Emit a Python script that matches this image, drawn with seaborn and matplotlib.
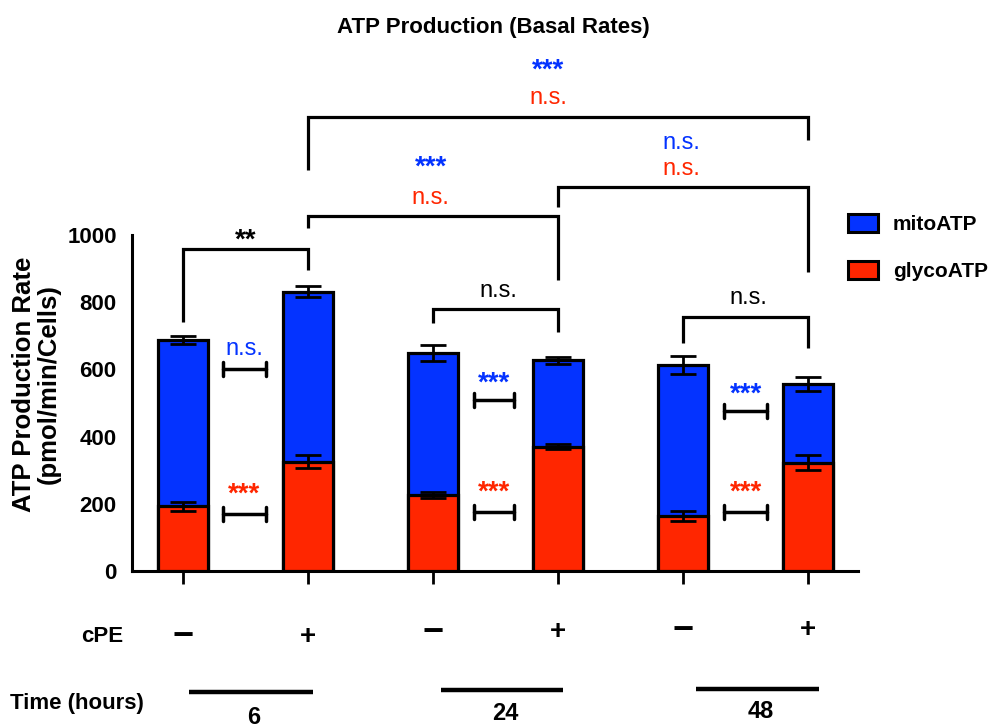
import numpy as np
import pandas as pd
import matplotlib
matplotlib.use("Agg")
import matplotlib.pyplot as plt
import seaborn as sns
from matplotlib.patches import Patch
from matplotlib.transforms import blended_transform_factory

# ---- data -------------------------------------------------------------
conditions = ["6h -", "6h +", "24h -", "24h +", "48h -", "48h +"]
cpe_marks = ["\u2212", "+", "\u2212", "+", "\u2212", "+"]
time_labels = ["6", "24", "48"]
glyco_atp = [192, 325, 226, 370, 164, 322]
mito_atp = [496, 506, 423, 257, 448, 234]
glyco_err = [12, 19, 10, 8, 15, 22]
total_err = [11, 16, 25, 10, 27, 20]

BLUE = "#0433FF"
RED = "#FF2600"

sns.set_theme(style="white")
plt.rcParams["font.family"] = ["Liberation Sans", "DejaVu Sans"]
plt.rcParams["font.weight"] = "bold"
for key in ["text.color", "axes.labelcolor", "xtick.color", "ytick.color",
            "axes.edgecolor"]:
    plt.rcParams[key] = "black"

df = pd.DataFrame({
    "condition": conditions,
    "glyco": glyco_atp,
    "mito": mito_atp,
})
df["total"] = df["glyco"] + df["mito"]

fig = plt.figure(figsize=(9.92, 7.27), dpi=100)
W, H = 992, 727
ax = fig.add_axes([132 / W, 1 - 571 / H, (858 - 132) / W, 336 / H])

# stacked bars: full height in blue, glycolytic part in red on top of it
sns.barplot(data=df, x="condition", y="total", order=conditions, color=BLUE,
            saturation=1, width=0.4, edgecolor="black", linewidth=2.3,
            errorbar=None, ax=ax, zorder=2)
sns.barplot(data=df, x="condition", y="glyco", order=conditions, color=RED,
            saturation=1, width=0.4, edgecolor="black", linewidth=2.3,
            errorbar=None, ax=ax, zorder=3)

xpos = np.arange(len(conditions))
ax.errorbar(xpos, df["total"], yerr=total_err, fmt="none", ecolor="black",
            elinewidth=2, capsize=9.5, capthick=2, zorder=5)
ax.errorbar(xpos, df["glyco"], yerr=glyco_err, fmt="none", ecolor="black",
            elinewidth=2, capsize=9.5, capthick=2, zorder=5)

ax.set_xlim(-0.41, 5.4)
ax.set_ylim(0, 1000)
ax.set_yticks(range(0, 1001, 200))
ax.set_xticks(xpos)
ax.set_xticklabels([""] * len(conditions))
ax.set_xlabel("")
ax.set_ylabel("")
for s in ["top", "right"]:
    ax.spines[s].set_visible(False)
for s in ["left", "bottom"]:
    ax.spines[s].set_linewidth(2.2)
    ax.spines[s].set_color("black")
ax.tick_params(axis="y", length=8, width=2, labelsize=16, color="black",
               labelcolor="black", pad=3)
ax.tick_params(axis="x", length=9, width=2, color="black", bottom=True)
for t in ax.get_yticklabels():
    t.set_fontweight("bold")

fig.text(36 / W, 1 - 384 / H, "ATP Production Rate\n(pmol/min/Cells)",
         rotation=90, ha="center", va="center", multialignment="center",
         fontsize=18.5, fontweight="bold", linespacing=1.05)

LW = 2.3


def bracket(x0, x1, top, y0, y1):
    ax.plot([x0, x0, x1, x1], [y0, top, top, y1], color="black", lw=LW,
            clip_on=False, solid_joinstyle="miter", solid_capstyle="butt",
            zorder=6)


def small_bar(x0, x1, y):
    ax.plot([x0, x1], [y, y], color="black", lw=2.5, clip_on=False, zorder=6)
    for xx in (x0, x1):
        ax.plot([xx, xx], [y - 20, y + 20], color="black", lw=2.5,
                clip_on=False, solid_capstyle="round", zorder=6)


def label(x, y, s, color):
    bold = "*" in s
    ax.text(x, y, s, color=color, ha="center", va="center",
            fontsize=20 if bold else 17,
            fontweight="bold" if bold else "normal", clip_on=False)


# comparisons between conditions
bracket(1, 5, 1351, 1193, 1283)
label(2.92, 1488, "***", BLUE)
label(2.92, 1408, "n.s.", RED)

bracket(1, 3, 1057, 1021, 866)
label(1.98, 1202, "***", BLUE)
label(1.98, 1110, "n.s.", RED)

bracket(3, 5, 1143, 1083, 890)
label(3.99, 1274, "n.s.", BLUE)
label(3.99, 1196, "n.s.", RED)

bracket(0, 1, 958, 741, 896)
label(0.5, 984, "**", "black")

bracket(2, 3, 780, 738, 711)
label(2.52, 834, "n.s.", "black")

bracket(4, 5, 756, 679, 664)
label(4.52, 812, "n.s.", "black")

# comparisons within each time point
pairs = [(0.32, 0.66, 601, 170, "n.s.", "***"),
         (2.33, 2.65, 509, 176, "***", "***"),
         (4.33, 4.67, 476, 176, "***", "***")]
for x0, x1, yb, yr, sb, sr in pairs:
    small_bar(x0, x1, yb)
    small_bar(x0, x1, yr)
    xc = (x0 + x1) / 2
    label(xc, yb + (60 if sb == "n.s." else 50), sb, BLUE)
    label(xc, yr + 56, sr, RED)

# condition rows below the axis
trans = blended_transform_factory(ax.transData, fig.transFigure)
row_y = [636, 637, 633, 632, 631, 630]
for x, m, yp in zip(xpos, cpe_marks, row_y):
    ax.text(x, 1 - yp / H, m, transform=trans, ha="center", va="center",
            fontsize=26 if m != "+" else 20, fontweight="bold", color="black")
fig.text(102 / W, 1 - 637 / H, "cPE", ha="center", va="center",
         fontsize=16, fontweight="bold")
fig.text(10 / W, 1 - 703 / H, "Time (hours)", ha="left", va="center",
         fontsize=16, fontweight="bold")

spans = [(0.05, 1.04, 692), (2.06, 3.04, 690), (4.1, 5.09, 689)]
lab_pos = [(0.56, 717), (2.58, 714), (4.62, 711)]
for (x0, x1, yp), (xl, yl), t in zip(spans, lab_pos, time_labels):
    ax.plot([x0, x1], [1 - yp / H] * 2, transform=trans, color="black",
            lw=3.2, clip_on=False, solid_capstyle="butt")
    ax.text(xl, 1 - yl / H, t, transform=trans, ha="center", va="center",
            fontsize=17, fontweight="bold")

fig.text(493 / W, 1 - 28 / H, "ATP Production (Basal Rates)", ha="center",
         va="center", fontsize=16, fontweight="bold")

handles = [Patch(facecolor=BLUE, edgecolor="black", linewidth=2.2),
           Patch(facecolor=RED, edgecolor="black", linewidth=2.2)]
fig.legend(handles, ["mitoATP", "glycoATP"], loc="upper left",
           bbox_to_anchor=(848 / W, 1 - 214 / H), frameon=False,
           prop={"size": 15, "weight": "bold"}, handlelength=1.45,
           handleheight=0.95, labelspacing=1.3, handletextpad=0.7,
           borderpad=0, borderaxespad=0)

fig.savefig("out.png", dpi=100)
